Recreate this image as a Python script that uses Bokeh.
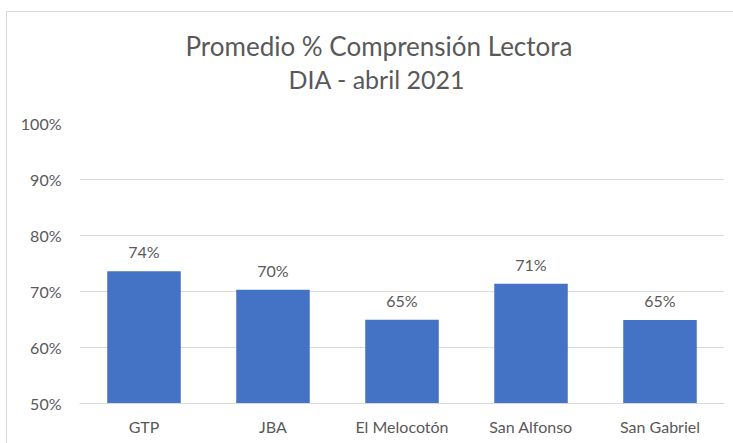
from bokeh.plotting import figure
from bokeh.models import ColumnDataSource, LabelSet, Title, FixedTicker, Range1d
from bokeh.core.properties import value
from bokeh.embed import file_html
from bokeh.resources import INLINE

schools = ["GTP", "JBA", "El Melocotón", "San Alfonso", "San Gabriel"]
values = [73.6, 70.3, 64.95, 71.4, 64.9]
y_ticks = [50, 60, 70, 80, 90, 100]
y_tick_labels = ["50%", "60%", "70%", "80%", "90%", "100%"]
title_lines = ["Promedio % Comprensión Lectora", "DIA - abril 2021"]

FONT = "Lato"
TXT = "#595959"
GRID = "#D9D9D9"
BAR = "#4472C4"

src = ColumnDataSource(dict(x=schools, top=values, lab=[f"{round(v)}%" for v in values]))

p = figure(x_range=schools, y_range=Range1d(50, 100), width=727, height=432,
           output_backend="svg", toolbar_location=None,
           min_border_left=72, min_border_right=10, min_border_top=111, min_border_bottom=41)
p.styles = {"margin-left": "6px", "margin-top": "11px",
            "border-left": "1px solid #D9D9D9", "border-top": "1px solid #D9D9D9",
            "box-sizing": "border-box"}
p.outline_line_color = None
p.background_fill_color = "white"
p.border_fill_color = "white"

p.vbar(x="x", top="top", bottom=50, width=0.57, source=src, fill_color=BAR, line_color=None)

p.add_layout(LabelSet(x="x", y="top", text="lab", source=src, text_align="center",
                      text_baseline="alphabetic", y_offset=13, text_font=value(FONT),
                      text_font_size="16px", text_color=TXT))

p.yaxis.ticker = FixedTicker(ticks=y_ticks)
p.yaxis.major_label_overrides = {t: l for t, l in zip(y_ticks, y_tick_labels)}
p.yaxis.axis_line_color = None
p.yaxis.major_tick_line_color = None
p.yaxis.minor_tick_line_color = None
p.yaxis.major_label_standoff = 12
p.yaxis.major_label_text_font = FONT
p.yaxis.major_label_text_font_size = "16px"
p.yaxis.major_label_text_color = TXT

p.xaxis.axis_line_color = GRID
p.xaxis.major_tick_line_color = None
p.xaxis.minor_tick_line_color = None
p.xaxis.major_label_standoff = 7
p.xaxis.major_label_text_font = FONT
p.xaxis.major_label_text_font_size = "16px"
p.xaxis.major_label_text_color = TXT

p.xgrid.grid_line_color = None
p.ygrid.grid_line_color = GRID
p.ygrid.ticker = FixedTicker(ticks=y_ticks)

# spacer between frame and titles, then subtitle, then main title (stacked upward)
p.add_layout(Title(text=" ", text_font_size="1px", standoff=27), "above")
p.add_layout(Title(text=title_lines[1], align="left", offset=209, standoff=0,
                   text_font=FONT, text_font_size="25px", text_font_style="normal",
                   text_color=TXT), "above")
p.add_layout(Title(text=title_lines[0], align="left", offset=106, standoff=0,
                   text_font=FONT, text_font_size="26px", text_font_style="normal",
                   text_color=TXT), "above")

open("out.html", "w").write(file_html(p, INLINE))
